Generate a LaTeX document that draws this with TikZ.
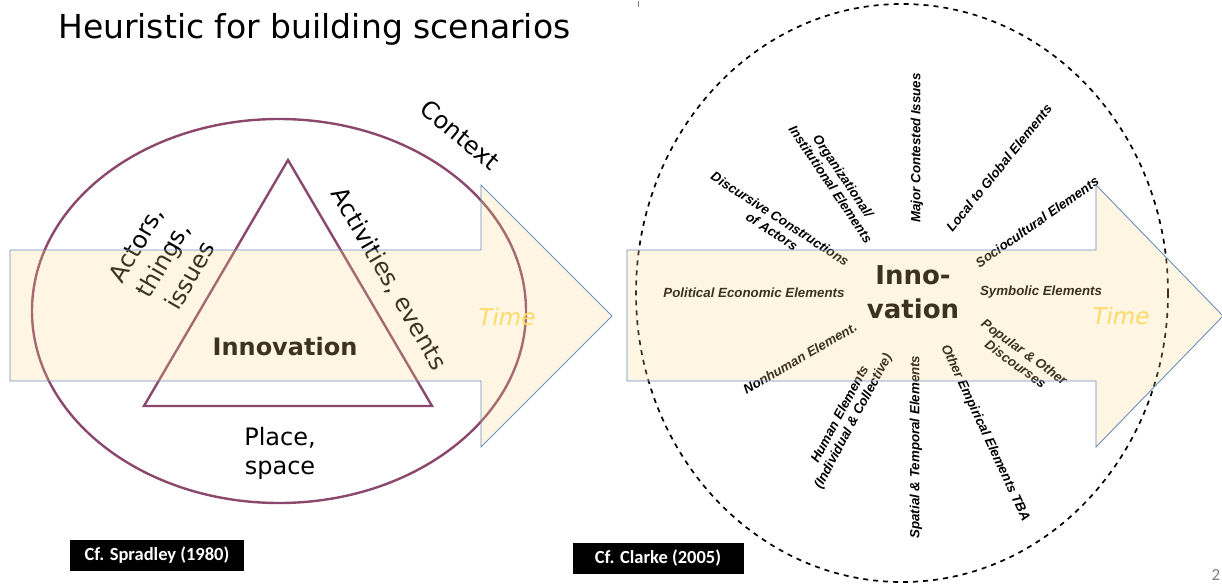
\documentclass[tikz,border=0pt]{standalone}
\usepackage{fontspec}
\setmainfont{DejaVu Sans}
\newfontfamily\arialfont{Liberation Sans}
\newfontfamily\calfont{Carlito}
\definecolor{maroonline}{RGB}{140,72,108}
\definecolor{arrowfill}{RGB}{250,217,133}
\definecolor{arrowline}{RGB}{108,142,191}
\definecolor{timecol}{RGB}{255,217,102}
\tikzset{
  maroonshape/.style={draw=maroonline, line width=2.4pt, line join=miter},
  bigarrow/.style={draw=arrowline, fill=arrowfill, fill opacity=0.24, line width=0.9pt},
  lefttext/.style={font=\fontsize{24}{31}\selectfont, align=center, inner sep=0pt},
  timetext/.style={font=\itshape\fontsize{23}{26}\selectfont, text=timecol, inner sep=0pt},
  rl/.style={font=\arialfont\bfseries\itshape\fontsize{13.3}{15}\selectfont, align=center, inner sep=0pt},
  cfbox/.style={fill=black, text=white, font=\calfont\bfseries\fontsize{18.5}{22}\selectfont, minimum height=31pt, inner sep=0pt},
}
\begin{document}
\begin{tikzpicture}[x=1pt,y=-1pt]
\useasboundingbox (0,0) rectangle (1222,583);
% title
\node[font=\fontsize{33}{38}\selectfont, inner sep=0pt, anchor=base west] (title) at (58,39) {Heuristic for building scenarios};
\draw[gray, line width=1pt] (638,1) -- (638,7);
% left diagram
\draw[maroonshape] (279,311) ellipse [x radius=247, y radius=192];
\draw[maroonshape] (288,160) -- (432,406) -- (144,406) -- cycle;
\node[lefttext, rotate=-40] (context) at (460,135) {Context};
\node[lefttext, rotate=60] (actors) at (163,260) {Actors,\\things,\\issues};
\node[lefttext, rotate=-60] (activities) at (389,279) {Activities, events};
\node[lefttext, font=\bfseries\fontsize{24}{28}\selectfont] (innov) at (285,347) {Innovation};
\node[lefttext, font=\fontsize{24}{29}\selectfont] (place) at (280,453) {Place,\\space};
% right diagram
\draw[dashed, dash pattern=on 5pt off 5pt, line width=1.7pt] (902,293) ellipse [x radius=266, y radius=289];
\node[font=\bfseries\fontsize{26}{34}\selectfont, align=center, inner sep=0pt] (inno) at (913,292) {Inno-\\vation};
\node[rl] (pol) at (754,293) {Political Economic Elements};
\node[rl] (sym) at (1041,292) {Symbolic Elements};
\node[rl, rotate=90] (major) at (917,148) {Major Contested Issues};
\node[rl, rotate=51] (local) at (999,168) {Local to Global Elements};
\node[rl, rotate=35] (socio) at (1037,222) {Sociocultural Elements};
\node[rl, rotate=-56] (org) at (837,180) {Organizational/\\Institutional Elements};
\node[rl, rotate=-33] (disc) at (776,225) {Discursive Constructions\\of Actors};
\node[rl, rotate=30] (nonhuman) at (800,358) {Nonhuman Element.};
\node[rl, rotate=62] (human) at (847,418) {Human Elements\\(Individual \& Collective)};
\node[rl, rotate=90] (spatial) at (916,447) {Spatial \& Temporal Elements};
\node[rl, rotate=-65] (other) at (985,433) {Other Empirical Elements TBA};
\node[rl, rotate=-36] (popular) at (1020,358) {Popular \& Other\\Discourses};
% arrows
\draw[bigarrow] (10,250) -- (481,250) -- (481,185) -- (612,316) -- (481,447) -- (481,381) -- (10,381) -- cycle;
\draw[bigarrow] (627,250) -- (1096,250) -- (1096,185) -- (1223,316) -- (1096,447) -- (1096,381) -- (627,381) -- cycle;
\node[timetext] (time1) at (507,317) {Time};
\node[timetext] (time2) at (1121,316) {Time};
% citations
\node[cfbox, minimum width=174pt] (spradley) at (157,555) {Cf. Spradley (1980)};
\node[cfbox, minimum width=171pt] (clarke) at (658,558) {Cf. Clarke (2005)};
\node[text=gray, font=\calfont\fontsize{17}{20}\selectfont, inner sep=0pt] (pagenum) at (1216,575) {2};
\end{tikzpicture}
\end{document}
